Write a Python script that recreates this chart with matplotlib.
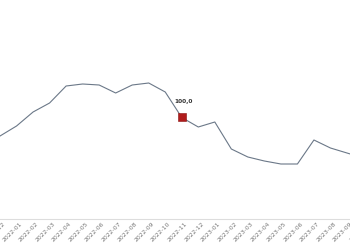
import matplotlib
matplotlib.use("Agg")
import matplotlib.pyplot as plt
from matplotlib.transforms import ScaledTranslation

months = ["2021-11", "2021-12",
          "2022-01", "2022-02", "2022-03", "2022-04", "2022-05", "2022-06",
          "2022-07", "2022-08", "2022-09", "2022-10", "2022-11", "2022-12",
          "2023-01", "2023-02", "2023-03", "2023-04", "2023-05", "2023-06",
          "2023-07", "2023-08", "2023-09", "2023-10"]
values = [94.5, 96.3,
          98.3, 101.1, 102.9, 106.3, 106.7, 106.5,
          104.9, 106.5, 106.9, 105.1, 100.0, 98.1,
          99.1, 93.7, 92.1, 91.3, 90.7, 90.7,
          95.5, 93.9, 92.9, 91.9]
highlight_month = "2022-11"
highlight_label = "100,0"

fig = plt.figure(figsize=(3.5, 2.5), dpi=100)
# axes wider than the figure: the reference is a crop of a wider chart
ax = fig.add_axes([-16.5 / 350, 0.124, 380 / 350, 0.876])
x = list(range(len(months)))
ax.plot(x, values, color="#6b7888", linewidth=0.8)
hi = months.index(highlight_month)
ax.plot([hi], [values[hi]], marker="s", markersize=5.2, color="#b01c1c",
        markeredgecolor="#8a1010", markeredgewidth=0.4, linestyle="none")
ax.annotate(highlight_label, (hi, values[hi]), xytext=(1.5, 16),
            textcoords="offset pixels", ha="center", va="center",
            fontsize=4.2, color="#333333", fontweight="bold")

ax.set_xlim(0, len(months) - 1)
ax.set_ylim(79.7, 123.5)
ax.set_xticks(x)
ax.set_xticklabels(months, rotation=45, ha="right", rotation_mode="anchor",
                   fontsize=4.4, color="#777777")
ax.tick_params(axis="x", length=0, pad=3)
shift = ScaledTranslation(3 / 100, 2 / 100, fig.dpi_scale_trans)
for lab in ax.get_xticklabels():
    lab.set_transform(lab.get_transform() + shift)
ax.set_yticks([])
for s in ["top", "left", "right"]:
    ax.spines[s].set_visible(False)
ax.spines["bottom"].set_color("#dddddd")
ax.spines["bottom"].set_linewidth(0.8)
ax.patch.set_alpha(0)

fig.savefig("out.png", dpi=100)
